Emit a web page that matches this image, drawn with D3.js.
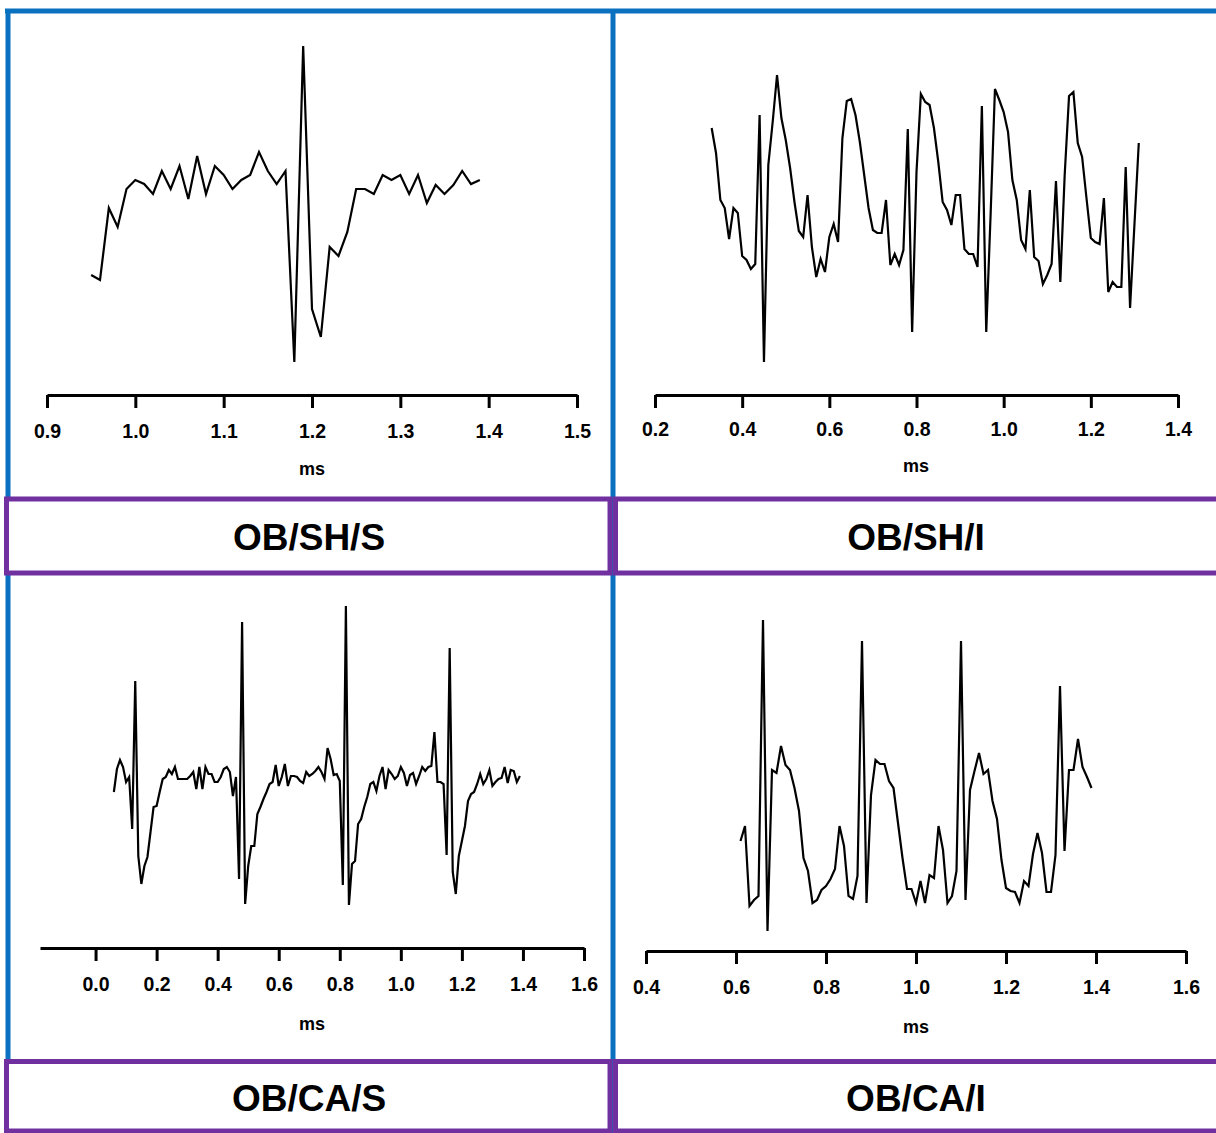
<!DOCTYPE html>
<html>
<head>
<meta charset="utf-8">
<script src="https://cdn.jsdelivr.net/npm/d3@7"></script>
<style>
  body { margin: 0; background: #fff; }
  svg { display: block; }
</style>
</head>
<body>
<script>
// sampling: one point every 0.01 ms from the given start time
const step = 0.01;

// OB/SH/S
const shsStart = 0.95;
const shsAmp = [120, 115, 187, 168, 206, 215, 211, 201, 224, 206,
  229, 196, 239, 201, 229, 220, 206, 215, 220, 243,
  224, 211, 224, 33, 349, 86, 58, 148, 139, 163,
  206, 206, 201, 220, 215, 220, 201, 220, 192, 210,
  201, 210, 224, 211, 215];
const shsTicks = [0.9, 1.0, 1.1, 1.2, 1.3, 1.4, 1.5];

// OB/SH/I
const shiStart = 0.33;
const shiAmp = [267, 242, 195, 187, 156, 187, 182, 139, 135, 126,
  131, 280, 33, 230, 273, 320, 277, 255, 227, 193,
  164, 158, 200, 148, 118, 136, 123, 158, 171, 153,
  257, 294, 296, 280, 253, 220, 187, 165, 162, 162,
  195, 130, 141, 130, 145, 266, 63, 223, 301, 293,
  290, 267, 233, 193, 185, 170, 200, 200, 146, 141,
  141, 128, 289, 63, 180, 306, 295, 283, 263, 215,
  195, 155, 146, 205, 138, 134, 111, 120, 131, 214,
  113, 220, 299, 303, 252, 238, 197, 157, 153, 151,
  197, 103, 113, 108, 108, 228, 87, 170, 252];
const shiTicks = [0.2, 0.4, 0.6, 0.8, 1.0, 1.2, 1.4];

// OB/CA/S
const casStart = 0.06;
const casAmp = [156, 179, 188, 181, 166, 171, 119, 267, 92, 64,
  82, 91, 116, 141, 142, 156, 169, 171, 178, 174,
  181, 169, 169, 169, 169, 172, 176, 159, 181, 159,
  181, 174, 174, 166, 166, 171, 179, 181, 176, 152,
  171, 69, 326, 44, 82, 102, 102, 134, 141, 149,
  156, 164, 166, 183, 162, 171, 184, 162, 172, 172,
  171, 167, 165, 176, 172, 174, 177, 181, 176, 169,
  200, 189, 173, 174, 167, 63, 342, 43, 84, 87,
  124, 129, 141, 151, 164, 166, 157, 172, 181, 159,
  178, 174, 169, 172, 181, 175, 162, 173, 175, 164,
  172, 181, 177, 181, 182, 216, 166, 166, 164, 93,
  300, 76, 54, 92, 107, 122, 147, 154, 156, 164,
  174, 164, 169, 178, 162, 166, 169, 170, 181, 165,
  178, 177, 166, 172];
const casTicks = [0.0, 0.2, 0.4, 0.6, 0.8, 1.0, 1.2, 1.4, 1.6];

// OB/CA/I
const caiStart = 0.61;
const caiAmp = [110, 125, 45, 51, 55, 331, 20, 181, 178, 205,
  186, 181, 163, 140, 93, 80, 48, 51, 61, 65,
  72, 82, 125, 105, 55, 52, 75, 310, 48, 156,
  191, 187, 187, 170, 163, 128, 93, 62, 62, 48,
  70, 48, 76, 73, 125, 101, 48, 55, 80, 310,
  51, 161, 180, 198, 177, 181, 150, 132, 91, 63,
  60, 59, 48, 70, 65, 97, 118, 98, 59, 59,
  96, 265, 100, 181, 181, 212, 184, 174, 163];
const caiTicks = [0.4, 0.6, 0.8, 1.0, 1.2, 1.4, 1.6];

const blue = "#0a70c0", purple = "#7030a0";

var svg = d3.select("body").append("svg")
  .attr("width", 1216)
  .attr("height", 1133)
  .style("background", "#fff");

// panel layout
const panels = [
  {name: "OB/SH/S", start: shsStart, amp: shsAmp, ticks: shsTicks,
   domain: [0.9, 1.5], range: [47, 577], axisY: 395, pad: 16,
   msY: 475, msX: 312, box: [6.5, 499, 610, 573], labelX: 309, labelY: 550},
  {name: "OB/SH/I", start: shiStart, amp: shiAmp, ticks: shiTicks,
   domain: [0.2, 1.4], range: [655, 1178], axisY: 395, pad: 14,
   msY: 472, msX: 916, box: [615.5, 499, 1220, 573], labelX: 916, labelY: 550},
  {name: "OB/CA/S", start: casStart, amp: casAmp, ticks: casTicks,
   domain: [-0.182, 1.6], range: [40, 584], axisY: 948, pad: 16,
   msY: 1030, msX: 312, box: [6.5, 1061.5, 610, 1131], labelX: 309, labelY: 1111},
  {name: "OB/CA/I", start: caiStart, amp: caiAmp, ticks: caiTicks,
   domain: [0.4, 1.6], range: [646, 1186], axisY: 951, pad: 16,
   msY: 1033, msX: 916, box: [615.5, 1061.5, 1220, 1131], labelX: 916, labelY: 1111}
];

// blue frames
svg.append("line").attr("x1", 5).attr("x2", 1216).attr("y1", 11).attr("y2", 11)
  .style("stroke", blue).style("stroke-width", 5);
svg.append("line").attr("x1", 8).attr("x2", 8).attr("y1", 9).attr("y2", 1133)
  .style("stroke", blue).style("stroke-width", 5);
svg.append("line").attr("x1", 613).attr("x2", 613).attr("y1", 9).attr("y2", 1133)
  .style("stroke", blue).style("stroke-width", 5);

panels.forEach(function(p) {
  const xScale = d3.scaleLinear().domain(p.domain).range(p.range);
  const yScale = d3.scaleLinear().domain([0, 400]).range([p.axisY, p.axisY - 400]);

  const xaxis = d3.axisBottom(xScale)
    .tickValues(p.ticks)
    .tickFormat(d3.format(".1f"))
    .tickSize(13)
    .tickSizeOuter(0)
    .tickPadding(p.pad);

  const g = svg.append("g")
    .attr("transform", "translate(0," + p.axisY + ")")
    .call(xaxis);
  g.select(".domain").style("stroke", "#000").style("stroke-width", 3);
  g.selectAll(".tick line").style("stroke", "#000").style("stroke-width", 3);
  g.selectAll(".tick text")
    .style("font-family", "'Liberation Sans', Arial, sans-serif")
    .style("font-size", "19.5px")
    .style("font-weight", "bold")
    .style("fill", "#000");

  svg.append("text")
    .attr("x", p.msX)
    .attr("y", p.msY)
    .attr("text-anchor", "middle")
    .style("font-family", "'Liberation Sans', Arial, sans-serif")
    .style("font-size", "18px")
    .style("font-weight", "bold")
    .text("ms");

  const line = d3.line()
    .x(function(d, i) { return xScale(p.start + i * step); })
    .y(function(d) { return yScale(d); });

  svg.append("path")
    .datum(p.amp)
    .style("fill", "none")
    .style("stroke", "#000")
    .style("stroke-width", 2.2)
    .style("stroke-linejoin", "miter")
    .attr("d", line);

  // label box
  svg.append("rect")
    .attr("x", p.box[0]).attr("y", p.box[1])
    .attr("width", p.box[2] - p.box[0]).attr("height", p.box[3] - p.box[1])
    .style("fill", "#fff")
    .style("stroke", purple)
    .style("stroke-width", 5);

  svg.append("text")
    .attr("x", p.labelX)
    .attr("y", p.labelY)
    .attr("text-anchor", "middle")
    .style("font-family", "'Liberation Sans', Arial, sans-serif")
    .style("font-size", "37px")
    .style("font-weight", "bold")
    .text(p.name);
});
</script>
</body>
</html>
